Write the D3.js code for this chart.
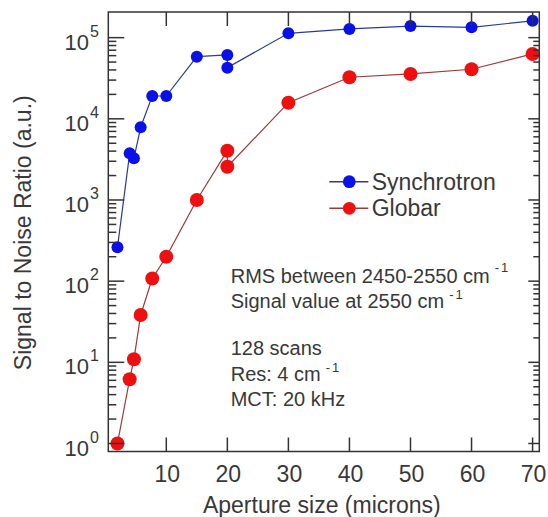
<!DOCTYPE html>
<html>
<head>
<meta charset="utf-8">
<script src="https://cdn.jsdelivr.net/npm/d3@7"></script>
<style>
  html, body { margin: 0; padding: 0; background: #fff; }
  svg { display: block; }
  text { font-family: "Liberation Sans", Arial, sans-serif; fill: #383838; }
</style>
</head>
<body>
<svg id="chart" width="548" height="517"></svg>
<script>
// ---- data ----
const syncAperture   = [2, 4, 4.7, 5.8, 7.7, 10, 15, 20, 20, 30, 40, 50, 60, 70];
const syncSNR        = [261, 3760, 3265, 7870, 19100, 19100, 58300, 61200, 42700, 113000, 128000, 139000, 134000, 161000];
const globarAperture = [2, 4, 4.7, 5.8, 7.7, 10, 15, 20, 20, 30, 40, 50, 60, 70];
const globarSNR      = [1.0, 6.2, 10.9, 38.3, 108, 200, 1000, 4050, 2570, 15800, 32500, 35700, 40800, 63000];
const xTickValues    = [10, 20, 30, 40, 50, 60, 70];
const yDecades       = [0, 1, 2, 3, 4, 5];
const seriesNames    = ["Synchrotron", "Globar"];
const noteLines      = [
  {text: "RMS between 2450-2550 cm", sup: "-1"},
  {text: "Signal value at 2550 cm", sup: "-1"},
  {text: "128 scans", sup: null},
  {text: "Res: 4 cm", sup: "-1"},
  {text: "MCT: 20 kHz", sup: null}
];
const xTitle = "Aperture size (microns)";
const yTitle = "Signal to Noise Ratio (a.u.)";

// ---- layout ----
const pLeft = 108.3, pTop = 12, pRight = 539.3, pBottom = 451.5;
const svg = d3.select("#chart");

const x = d3.scaleLinear().domain([0.5, 71.1]).range([pLeft, pRight]);
const y = d3.scaleLog().domain([0.797, 207000]).range([pBottom, pTop]);

const colors = {
  sync: {line: "#2c3a96", fill: "#0a10e8"},
  glob: {line: "#9c3a3a", fill: "#ee1010"}
};

// ---- series ----
function drawSeries(xs, ys, c, r) {
  const pts = xs.map((v, i) => [v, ys[i]]);
  svg.append("path")
    .datum(pts)
    .attr("fill", "none")
    .attr("stroke", c.line)
    .attr("stroke-width", 1.2)
    .attr("d", d3.line().x(d => x(d[0])).y(d => y(d[1])));
  svg.append("g").selectAll("circle").data(pts).join("circle")
    .attr("cx", d => x(d[0])).attr("cy", d => y(d[1]))
    .attr("r", r).attr("fill", c.fill);
}
drawSeries(globarAperture, globarSNR, colors.glob, 7);
drawSeries(syncAperture, syncSNR, colors.sync, 6);

// ---- axes ----
const axisColor = "#333";
const g = svg.append("g").attr("stroke", axisColor).attr("stroke-width", 1.5);

const yTicks = y.ticks().filter(v => v >= 1 && v <= 1e5);
yTicks.forEach(v => {
  const isMajor = Math.abs(Math.log10(v) - Math.round(Math.log10(v))) < 1e-9;
  const yy = y(v);
  g.append("line").attr("x1", pLeft).attr("x2", pLeft + (isMajor ? 16 : 8))
    .attr("y1", yy).attr("y2", yy);
  g.append("line").attr("x1", pRight).attr("x2", pRight - (isMajor ? 11 : 6))
    .attr("y1", yy).attr("y2", yy);
});
xTickValues.forEach(v => {
  const xx = x(v);
  g.append("line").attr("x1", xx).attr("x2", xx).attr("y1", pBottom).attr("y2", pBottom - 14);
  g.append("line").attr("x1", xx).attr("x2", xx).attr("y1", pTop).attr("y2", pTop + 14);
});
g.append("rect").attr("x", pLeft).attr("y", pTop)
  .attr("width", pRight - pLeft).attr("height", pBottom - pTop)
  .attr("fill", "none");

// x tick labels
svg.append("g").selectAll("text").data(xTickValues).join("text")
  .attr("x", d => x(d) + 1).attr("y", 482)
  .attr("text-anchor", "middle")
  .attr("font-size", 23)
  .text(d => d);

// y tick labels: 10^n
yDecades.forEach(p => {
  const t = svg.append("text")
    .attr("x", 99).attr("y", y(Math.pow(10, p)) + 12)
    .attr("text-anchor", "end");
  t.append("tspan").attr("font-size", 22).text("10");
  t.append("tspan").attr("font-size", 16).attr("dy", -13).attr("dx", 1).text(p);
});

// axis titles
svg.append("text")
  .attr("x", (pLeft + pRight) / 2 - 2).attr("y", 513)
  .attr("text-anchor", "middle").attr("font-size", 23)
  .text(xTitle);
svg.append("text")
  .attr("transform", `translate(31,${(pTop + pBottom) / 2 + 1}) rotate(-90)`)
  .attr("text-anchor", "middle").attr("font-size", 23)
  .text(yTitle);

// ---- legend ----
const legendItems = [
  {name: seriesNames[0], c: colors.sync, y: 181.7},
  {name: seriesNames[1], c: colors.glob, y: 208.3}
];
legendItems.forEach(it => {
  svg.append("line").attr("x1", 329.3).attr("x2", 368.3)
    .attr("y1", it.y).attr("y2", it.y)
    .attr("stroke", it.c.line).attr("stroke-width", 1.4);
  svg.append("circle").attr("cx", 349.3).attr("cy", it.y).attr("r", 6.4)
    .attr("fill", it.c.fill);
  svg.append("text").attr("x", 371.7).attr("y", it.y + 8)
    .attr("font-size", 23).text(it.name);
});

// ---- notes ----
const noteY = [282.5, 308, 355, 381, 406];
noteLines.forEach((ln, i) => {
  const t = svg.append("text").attr("x", 230.7).attr("y", noteY[i]).attr("font-size", 20);
  t.append("tspan").text(ln.text);
  if (ln.sup) {
    t.append("tspan").attr("font-size", 13).attr("dy", i === 0 ? -11 : -9).attr("dx", 5)
      .attr("letter-spacing", 2).text(ln.sup);
  }
});
</script>
</body>
</html>
